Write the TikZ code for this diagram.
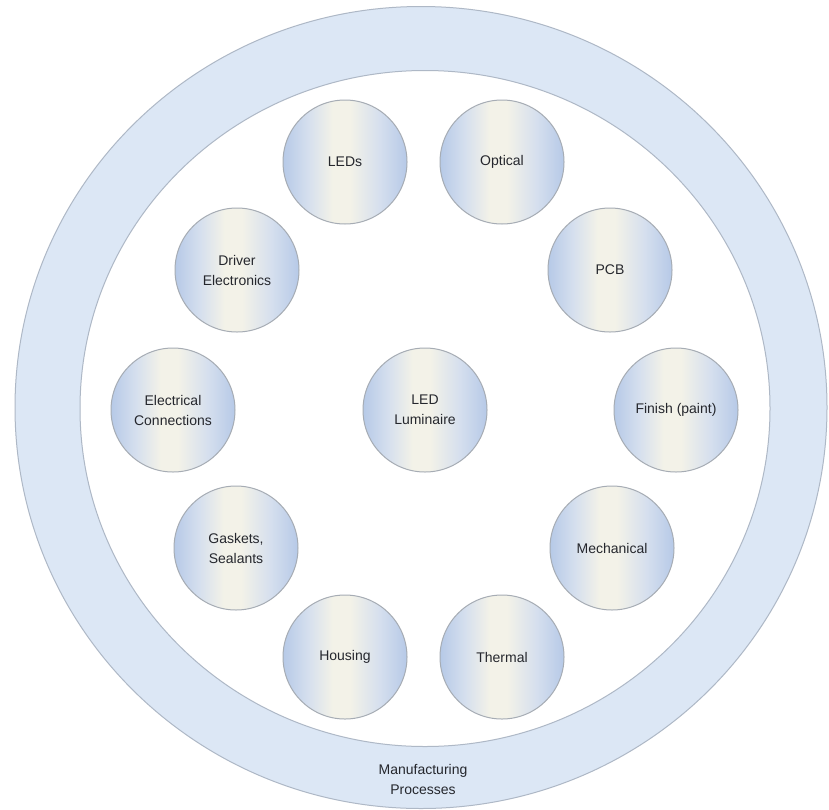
\documentclass[tikz,border=0pt]{standalone}
\usepackage{fontspec}
\setmainfont{Liberation Sans}
\definecolor{cblue}{HTML}{B6C9E7}
\definecolor{cmid}{HTML}{D5DFEE}
\definecolor{ccream}{HTML}{F3F2E8}
\definecolor{ringfill}{HTML}{DCE7F5}
\definecolor{ringline}{HTML}{AEB8C6}
\definecolor{ballline}{HTML}{A6ACB4}
\definecolor{txt}{HTML}{25272D}
\pgfdeclarehorizontalshading{ballshade}{100bp}{color(0bp)=(cblue); color(25bp)=(cblue); color(35bp)=(cmid); color(45bp)=(ccream); color(52bp)=(ccream); color(64bp)=(cmid); color(75bp)=(cblue); color(100bp)=(cblue)}
\tikzset{
  ball/.style={circle, minimum size=62pt, inner sep=0pt, draw=ballline, line width=0.5pt, shading=ballshade, text=txt, align=center, font=\fontsize{7}{10}\selectfont},
  lbl/.style={text=txt, align=center, font=\fontsize{7}{10}\selectfont}
}
\begin{document}
\begin{tikzpicture}[x=0.5pt,y=-0.5pt]
\useasboundingbox (0,0) rectangle (829,809);
\fill[white] (0,0) rectangle (829,809);
% ring
\fill[ringfill, even odd rule] (421,407.5) ellipse [x radius=203pt, y radius=200.5pt] (425,408.5) ellipse [x radius=172.5pt, y radius=169pt];
\draw[ringline, line width=0.5pt] (421,407.5) ellipse [x radius=203pt, y radius=200.5pt];
\draw[ringline, line width=0.5pt] (425,408.5) ellipse [x radius=172.5pt, y radius=169pt];
% balls
\node[ball] (leds) at (345,162) {LEDs};
\node[ball] (optical) at (502,162) {Optical};
\node[ball] (driver) at (237,270) {Driver\\Electronics};
\node[ball] (pcb) at (610,270) {PCB};
\node[ball] (elec) at (173,410) {Electrical\\Connections};
\node[ball] (lum) at (425,410) {LED\\Luminaire};
\node[ball] (finish) at (676,410) {Finish (paint)};
\node[ball] (gaskets) at (236,548) {Gaskets,\\Sealants};
\node[ball] (mech) at (612,548) {Mechanical};
\node[ball] (housing) at (345,657) {Housing};
\node[ball] (thermal) at (502,657) {Thermal};
\node[lbl] (manu) at (423,779) {Manufacturing\\Processes};
\end{tikzpicture}
\end{document}
